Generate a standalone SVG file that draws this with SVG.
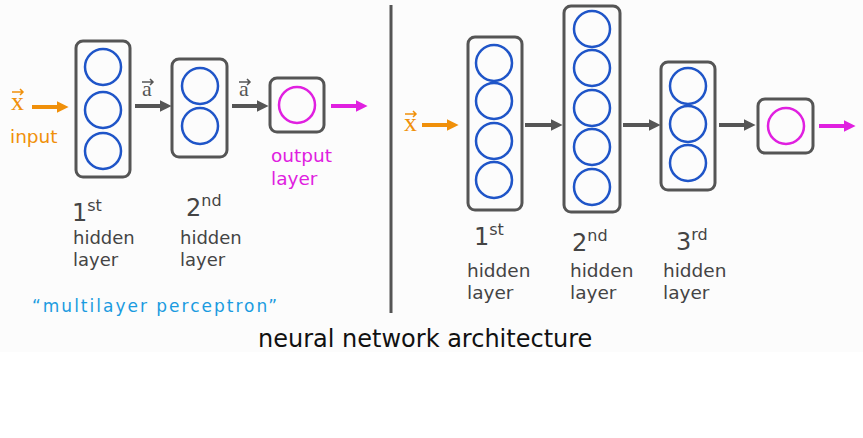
<svg xmlns="http://www.w3.org/2000/svg" width="863" height="438" viewBox="0 0 863 438">
<defs>
<style>
.box{fill:none;stroke:#555;stroke-width:3}
.n{fill:none;stroke:#1f55c8;stroke-width:2.5}
.o{fill:none;stroke:#e020e0;stroke-width:2.5}
.t{font-family:"DejaVu Sans",Verdana,sans-serif;font-size:18.5px;fill:#444}
.hand{font-family:"DejaVu Sans",sans-serif;fill:#444}
.ga{stroke:#555;stroke-width:4;marker-end:url(#hg)}
.oa{stroke:#f0900a;stroke-width:4;marker-end:url(#ho)}
.ma{stroke:#e020e0;stroke-width:4;marker-end:url(#hm)}
.vec{font-family:"Liberation Serif",serif}
</style>
<marker id="hg" viewBox="0 0 10 10" refX="2" refY="5" markerWidth="3" markerHeight="3" orient="auto" markerUnits="strokeWidth"><path d="M0,0 L10,5 L0,10 z" fill="#555"/></marker>
<marker id="ho" viewBox="0 0 10 10" refX="2" refY="5" markerWidth="3" markerHeight="3" orient="auto" markerUnits="strokeWidth"><path d="M0,0 L10,5 L0,10 z" fill="#f0900a"/></marker>
<marker id="hm" viewBox="0 0 10 10" refX="2" refY="5" markerWidth="3" markerHeight="3" orient="auto" markerUnits="strokeWidth"><path d="M0,0 L10,5 L0,10 z" fill="#e020e0"/></marker>
</defs>
<rect x="0" y="0" width="863" height="352" fill="#fcfcfc"/>
<rect x="0" y="352" width="863" height="86" fill="#ffffff"/>
<line x1="391" y1="5" x2="391" y2="313" stroke="#555" stroke-width="3"/>

<!-- left panel -->
<g id="l-input">
<text class="vec" x="11" y="110" font-size="26" fill="#f0900a">x</text>
<path d="M12,92 L23,92 M20,89 L23,92 L20,95" stroke="#f0900a" stroke-width="1.5" fill="none"/>
<text class="t" x="10" y="143" style="fill:#f0900a">input</text>
</g>
<g id="l-h1">
<rect class="box" x="76" y="41" width="54" height="136" rx="7"/>
<circle class="n" cx="103" cy="67" r="18"/>
<circle class="n" cx="103" cy="110" r="18"/>
<circle class="n" cx="103" cy="151" r="18"/>
<text class="hand" x="72" y="221" font-size="24">1<tspan font-size="16" dy="-10">st</tspan></text>
<text class="t" x="73" y="244" style="font-size:18px">hidden</text>
<text class="t" x="73" y="266" style="font-size:18px">layer</text>
</g>
<g id="l-h2">
<rect class="box" x="172" y="59" width="55" height="98" rx="7"/>
<circle class="n" cx="200" cy="86" r="18"/>
<circle class="n" cx="200" cy="126" r="18"/>
<text class="hand" x="186" y="216" font-size="24">2<tspan font-size="16" dy="-10">nd</tspan></text>
<text class="t" x="180" y="244" style="font-size:18px">hidden</text>
<text class="t" x="180" y="266" style="font-size:18px">layer</text>
</g>
<g id="l-out">
<rect class="box" x="270" y="78" width="54" height="54" rx="7"/>
<circle class="o" cx="297" cy="105" r="18"/>
<text class="t" x="271" y="162" style="fill:#e020e0">output</text>
<text class="t" x="271" y="185" style="fill:#e020e0">layer</text>
</g>
<text x="32" y="312" font-family="DejaVu Sans, sans-serif" font-size="17" letter-spacing="2" fill="#1a9be0">“multilayer perceptron”</text>

<g id="connectors">
<line class="oa" x1="32" y1="107" x2="59" y2="107"/>
<line class="ga" x1="135" y1="106" x2="162" y2="106"/>
<line class="ga" x1="232" y1="106" x2="259" y2="106"/>
<line class="ma" x1="331" y1="106" x2="358" y2="106"/>
<line class="oa" x1="422" y1="125" x2="449" y2="125"/>
<line class="ga" x1="525" y1="125" x2="553" y2="125"/>
<line class="ga" x1="623" y1="125" x2="651" y2="125"/>
<line class="ga" x1="719" y1="125" x2="746" y2="125"/>
<line class="ma" x1="819" y1="126" x2="846" y2="126"/>
</g>
<g id="labels-a">
<text class="vec" x="142" y="96" font-size="22" fill="#555">a</text>
<path d="M142,82 L153,82 M150,79 L153,82 L150,85" stroke="#555" stroke-width="1.5" fill="none"/>
<text class="vec" x="239" y="96" font-size="22" fill="#555">a</text>
<path d="M239,82 L250,82 M247,79 L250,82 L247,85" stroke="#555" stroke-width="1.5" fill="none"/>
</g>

<!-- right panel -->
<g id="r-input">
<text class="vec" x="404" y="131" font-size="26" fill="#f0900a">x</text>
<path d="M405,114 L416,114 M413,111 L416,114 L413,117" stroke="#f0900a" stroke-width="1.5" fill="none"/>
</g>
<g id="r-h1">
<rect class="box" x="468" y="37" width="54" height="173" rx="7"/>
<circle class="n" cx="494" cy="63" r="18"/>
<circle class="n" cx="494" cy="101" r="18"/>
<circle class="n" cx="494" cy="141" r="18"/>
<circle class="n" cx="494" cy="180" r="18"/>
<text class="hand" x="474" y="245" font-size="24">1<tspan font-size="16" dy="-10">st</tspan></text>
<text class="t" x="467" y="277">hidden</text>
<text class="t" x="467" y="299">layer</text>
</g>
<g id="r-h2">
<rect class="box" x="564" y="6" width="56" height="206" rx="7"/>
<circle class="n" cx="592" cy="29" r="18"/>
<circle class="n" cx="592" cy="68" r="18"/>
<circle class="n" cx="592" cy="108" r="18"/>
<circle class="n" cx="592" cy="147" r="18"/>
<circle class="n" cx="592" cy="187" r="18"/>
<text class="hand" x="572" y="251" font-size="24">2<tspan font-size="16" dy="-10">nd</tspan></text>
<text class="t" x="570" y="277">hidden</text>
<text class="t" x="570" y="299">layer</text>
</g>
<g id="r-h3">
<rect class="box" x="661" y="62" width="54" height="128" rx="7"/>
<circle class="n" cx="688" cy="86" r="18"/>
<circle class="n" cx="688" cy="124" r="18"/>
<circle class="n" cx="688" cy="163" r="18"/>
<text class="hand" x="676" y="250" font-size="24">3<tspan font-size="16" dy="-10">rd</tspan></text>
<text class="t" x="663" y="277">hidden</text>
<text class="t" x="663" y="299">layer</text>
</g>
<g id="r-out">
<rect class="box" x="758" y="99" width="55" height="54" rx="7"/>
<circle class="o" cx="786" cy="126" r="18"/>
</g>

<text x="258" y="347" font-family="DejaVu Sans, Verdana, sans-serif" font-size="24" fill="#111">neural network architecture</text>
</svg>
